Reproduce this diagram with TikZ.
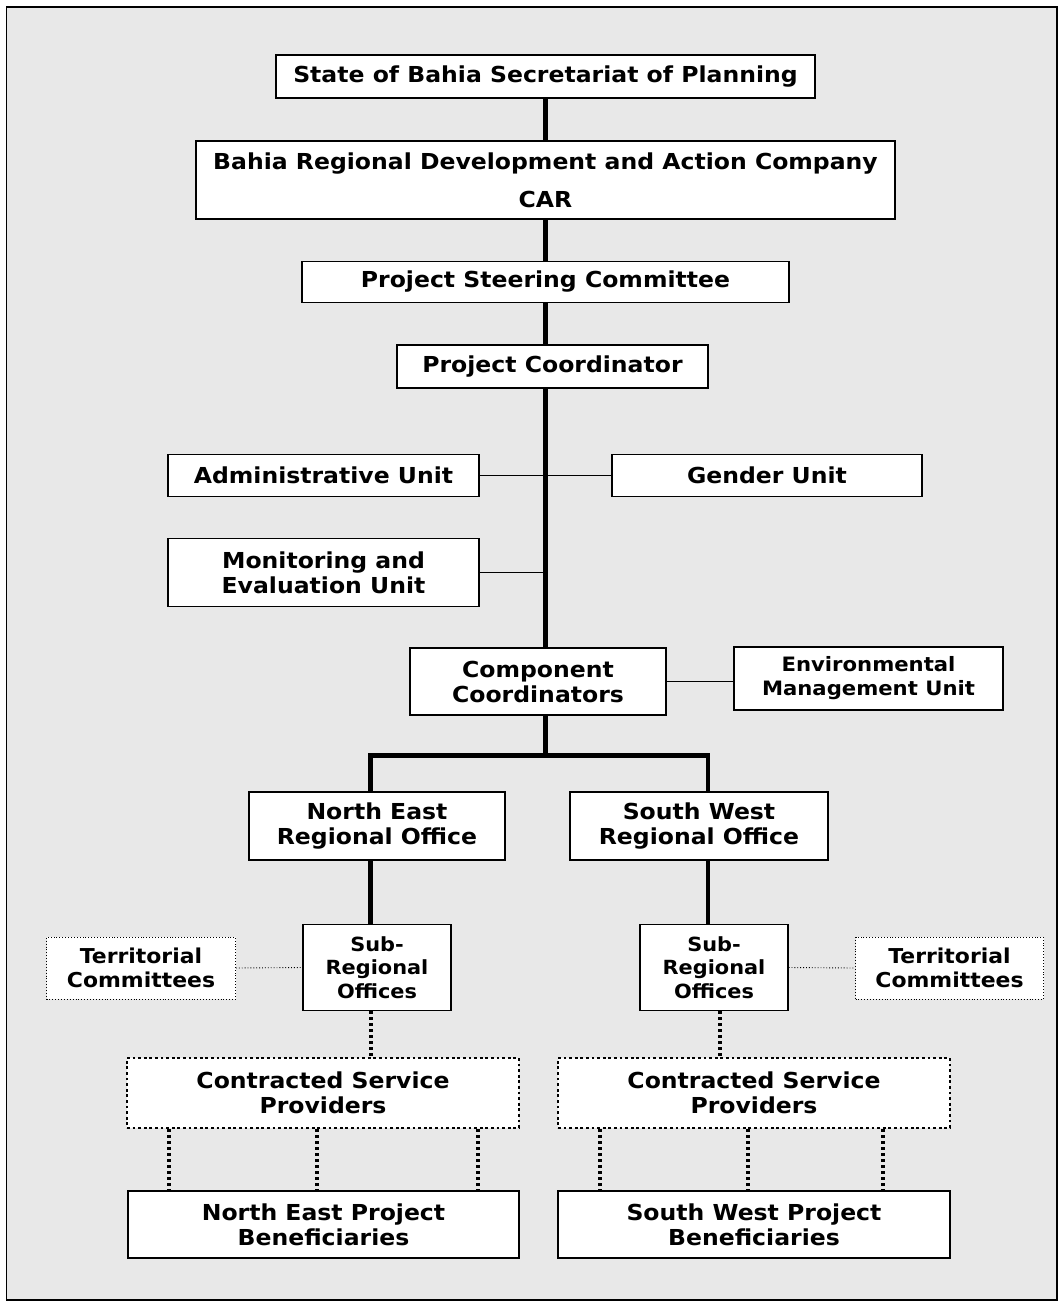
\documentclass[tikz,border=0pt]{standalone}
\usepackage{fontspec}
\setmainfont[FakeStretch=1.07]{DejaVu Sans}
\begin{document}
\begin{tikzpicture}[x=1pt,y=-1pt,
  every node/.style={font=\bfseries\fontsize{22}{25}\selectfont, align=center, inner sep=0pt},
  box/.style={draw, fill=white, line width=1.2pt},
  tbox/.style={draw, fill=white, line width=0.9pt, dotted},
  dbox/.style={draw, fill=white, line width=2.8pt, dash pattern=on 2.8pt off 2.8pt},
  trunk/.style={line width=4.7pt},
  thin/.style={line width=1.1pt},
  dthin/.style={line width=0.9pt, dotted},
  dthick/.style={line width=3.2pt, dash pattern=on 3pt off 3pt}]
\useasboundingbox (0,0) rectangle (1059,1307);
\draw[fill=black!9, line width=1.2pt] (6.5,7) rectangle (1057,1300);

\node[box, minimum width=539, minimum height=43] (state) at (545.5,76.5) {State of Bahia Secretariat of Planning};
\node[box, minimum width=699, minimum height=78] (bahia) at (545.5,180) {Bahia Regional Development and Action Company\\[13pt]CAR};
\node[box, minimum width=487, minimum height=41] (steer) at (545.5,282) {Project Steering Committee};
\node[box, minimum width=311, minimum height=43] (coord) at (552.5,366.5) {Project Coordinator};
\node[box, minimum width=311, minimum height=42] (admin) at (323.5,475.5) {Administrative Unit};
\node[box, minimum width=310, minimum height=42] (gender) at (767,475.5) {Gender Unit};
\node[box, minimum width=311, minimum height=68] (me) at (323.5,572.5) {Monitoring and\\Evaluation Unit};
\node[box, minimum width=256, minimum height=67] (comp) at (538,681.5) {Component\\Coordinators};
\node[box, minimum width=269, minimum height=63, font=\bfseries\fontsize{19.8}{24}\selectfont] (env) at (868.5,678.5) {Environmental\\Management Unit};
\node[box, minimum width=256, minimum height=68] (ne) at (377,826) {North East\\Regional Office};
\node[box, minimum width=258, minimum height=68] (sw) at (699,826) {South West\\Regional Office};
\node[box, minimum width=148, minimum height=86, font=\bfseries\fontsize{19.5}{23.5}\selectfont] (subl) at (377,967.5) {Sub-\\Regional\\Offices};
\node[box, minimum width=148, minimum height=86, font=\bfseries\fontsize{19.5}{23.5}\selectfont] (subr) at (714,967.5) {Sub-\\Regional\\Offices};
\node[tbox, minimum width=189, minimum height=62, font=\bfseries\fontsize{20.5}{24}\selectfont] (terl) at (141,968) {Territorial\\Committees};
\node[tbox, minimum width=188, minimum height=62, font=\bfseries\fontsize{20.5}{24}\selectfont] (terr) at (949.5,968) {Territorial\\Committees};
\node[dbox, minimum width=392, minimum height=70] (cspl) at (323,1093) {Contracted Service\\Providers};
\node[dbox, minimum width=392, minimum height=70] (cspr) at (754,1093) {Contracted Service\\Providers};
\node[box, minimum width=391, minimum height=67] (benl) at (323.5,1224.5) {North East Project\\Beneficiaries};
\node[box, minimum width=392, minimum height=67] (benr) at (754,1224.5) {South West Project\\Beneficiaries};

% trunk
\draw[trunk] (state.south) -- (bahia.north);
\draw[trunk] (bahia.south) -- (steer.north);
\draw[trunk] (steer.south) -- (steer.south |- coord.north);
\draw[trunk] (steer.south |- coord.south) -- (steer.south |- comp.north);
\coordinate (jc) at (545.5,755.5);
\coordinate (jl) at (370.5,755.5);
\coordinate (jr) at (708,755.5);
\draw[trunk] (jc |- comp.south) -- (jc);
\draw[trunk, line cap=rect] (jl) -- (jr);
\draw[trunk] (jl) -- (jl |- ne.north);
\draw[trunk] (jr) -- (jr |- sw.north);
\draw[trunk] (jl |- ne.south) -- (jl |- subl.north);
\draw[trunk] (jr |- sw.south) -- (jr |- subr.north);

% side units
\draw[thin] (admin.east) -- (gender.west);
\draw[thin] (me.east) -- (me.east -| jc);
\draw[thin] (comp.east) -- (comp.east -| env.west);

% territorial
\draw[dthin] (terl.east) -- (subl.west);
\draw[dthin] (subr.east) -- (terr.west);

% dotted thick
\draw[dthick] (subl.south -| 371,0) -- (cspl.north -| 371,0);
\draw[dthick] (subr.south -| 720,0) -- (cspr.north -| 720,0);
\foreach \x in {169,317,478} \draw[dthick] (cspl.south -| \x,0) -- (benl.north -| \x,0);
\foreach \x in {600,748,883} \draw[dthick] (cspr.south -| \x,0) -- (benr.north -| \x,0);
\end{tikzpicture}
\end{document}
